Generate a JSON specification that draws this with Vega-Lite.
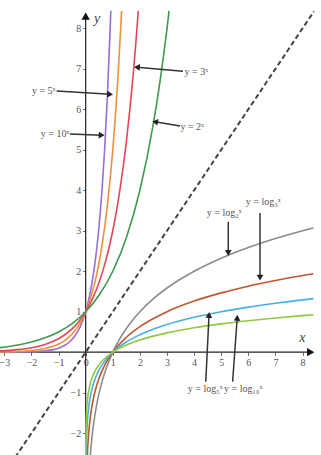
{
  "$schema": "https://vega.github.io/schema/vega-lite/v6.json",
  "width": 321,
  "height": 455,
  "autosize": {"type": "none"},
  "padding": 0,
  "background": "white",
  "config": {"view": {"stroke": null}},
  "datasets": {
    "curves": [
      {"f": "10^x", "x": -3.16, "y": 0.0007}, {"f": "10^x", "x": -2.5, "y": 0.0032}, {"f": "10^x", "x": -2, "y": 0.01},
      {"f": "10^x", "x": -1.5, "y": 0.0316}, {"f": "10^x", "x": -1.2, "y": 0.0631}, {"f": "10^x", "x": -1, "y": 0.1},
      {"f": "10^x", "x": -0.8, "y": 0.158}, {"f": "10^x", "x": -0.6, "y": 0.251}, {"f": "10^x", "x": -0.4, "y": 0.398},
      {"f": "10^x", "x": -0.2, "y": 0.631}, {"f": "10^x", "x": 0, "y": 1}, {"f": "10^x", "x": 0.1, "y": 1.259},
      {"f": "10^x", "x": 0.2, "y": 1.585}, {"f": "10^x", "x": 0.3, "y": 1.995}, {"f": "10^x", "x": 0.4, "y": 2.512},
      {"f": "10^x", "x": 0.5, "y": 3.162}, {"f": "10^x", "x": 0.6, "y": 3.981}, {"f": "10^x", "x": 0.7, "y": 5.012},
      {"f": "10^x", "x": 0.8, "y": 6.31}, {"f": "10^x", "x": 0.9, "y": 7.943}, {"f": "10^x", "x": 0.926, "y": 8.433},

      {"f": "5^x", "x": -3.16, "y": 0.0062}, {"f": "5^x", "x": -2.5, "y": 0.0179}, {"f": "5^x", "x": -2, "y": 0.04},
      {"f": "5^x", "x": -1.5, "y": 0.0894}, {"f": "5^x", "x": -1, "y": 0.2}, {"f": "5^x", "x": -0.75, "y": 0.299},
      {"f": "5^x", "x": -0.5, "y": 0.447}, {"f": "5^x", "x": -0.25, "y": 0.669}, {"f": "5^x", "x": 0, "y": 1},
      {"f": "5^x", "x": 0.2, "y": 1.38}, {"f": "5^x", "x": 0.4, "y": 1.904}, {"f": "5^x", "x": 0.6, "y": 2.627},
      {"f": "5^x", "x": 0.8, "y": 3.624}, {"f": "5^x", "x": 1, "y": 5}, {"f": "5^x", "x": 1.1, "y": 5.873},
      {"f": "5^x", "x": 1.2, "y": 6.899}, {"f": "5^x", "x": 1.3, "y": 8.103}, {"f": "5^x", "x": 1.325, "y": 8.43},

      {"f": "3^x", "x": -3.16, "y": 0.0311}, {"f": "3^x", "x": -2.5, "y": 0.0642}, {"f": "3^x", "x": -2, "y": 0.1111},
      {"f": "3^x", "x": -1.5, "y": 0.1925}, {"f": "3^x", "x": -1, "y": 0.3333}, {"f": "3^x", "x": -0.5, "y": 0.5774},
      {"f": "3^x", "x": -0.25, "y": 0.7598}, {"f": "3^x", "x": 0, "y": 1}, {"f": "3^x", "x": 0.25, "y": 1.316},
      {"f": "3^x", "x": 0.5, "y": 1.732}, {"f": "3^x", "x": 0.75, "y": 2.28}, {"f": "3^x", "x": 1, "y": 3},
      {"f": "3^x", "x": 1.25, "y": 3.948}, {"f": "3^x", "x": 1.5, "y": 5.196}, {"f": "3^x", "x": 1.75, "y": 6.839},
      {"f": "3^x", "x": 1.85, "y": 7.633}, {"f": "3^x", "x": 1.94, "y": 8.43},

      {"f": "2^x", "x": -3.16, "y": 0.1119}, {"f": "2^x", "x": -2.5, "y": 0.1768}, {"f": "2^x", "x": -2, "y": 0.25},
      {"f": "2^x", "x": -1.5, "y": 0.3536}, {"f": "2^x", "x": -1, "y": 0.5}, {"f": "2^x", "x": -0.5, "y": 0.7071},
      {"f": "2^x", "x": 0, "y": 1}, {"f": "2^x", "x": 0.5, "y": 1.414}, {"f": "2^x", "x": 1, "y": 2},
      {"f": "2^x", "x": 1.5, "y": 2.828}, {"f": "2^x", "x": 2, "y": 4}, {"f": "2^x", "x": 2.5, "y": 5.657},
      {"f": "2^x", "x": 2.75, "y": 6.727}, {"f": "2^x", "x": 3, "y": 8}, {"f": "2^x", "x": 3.075, "y": 8.43},

      {"f": "log2", "x": 0.172, "y": -2.54}, {"f": "log2", "x": 0.2, "y": -2.322}, {"f": "log2", "x": 0.25, "y": -2},
      {"f": "log2", "x": 0.3, "y": -1.737}, {"f": "log2", "x": 0.4, "y": -1.322}, {"f": "log2", "x": 0.5, "y": -1},
      {"f": "log2", "x": 0.6, "y": -0.737}, {"f": "log2", "x": 0.75, "y": -0.415}, {"f": "log2", "x": 1, "y": 0},
      {"f": "log2", "x": 1.25, "y": 0.322}, {"f": "log2", "x": 1.5, "y": 0.585}, {"f": "log2", "x": 2, "y": 1},
      {"f": "log2", "x": 2.5, "y": 1.322}, {"f": "log2", "x": 3, "y": 1.585}, {"f": "log2", "x": 4, "y": 2},
      {"f": "log2", "x": 5, "y": 2.322}, {"f": "log2", "x": 6, "y": 2.585}, {"f": "log2", "x": 7, "y": 2.807},
      {"f": "log2", "x": 8, "y": 3}, {"f": "log2", "x": 8.4, "y": 3.07},

      {"f": "log3", "x": 0.0614, "y": -2.54}, {"f": "log3", "x": 0.08, "y": -2.299}, {"f": "log3", "x": 0.1, "y": -2.096},
      {"f": "log3", "x": 0.15, "y": -1.727}, {"f": "log3", "x": 0.2, "y": -1.465}, {"f": "log3", "x": 0.3, "y": -1.096},
      {"f": "log3", "x": 0.4, "y": -0.834}, {"f": "log3", "x": 0.5, "y": -0.631}, {"f": "log3", "x": 0.7, "y": -0.325},
      {"f": "log3", "x": 1, "y": 0}, {"f": "log3", "x": 1.5, "y": 0.369}, {"f": "log3", "x": 2, "y": 0.631},
      {"f": "log3", "x": 3, "y": 1}, {"f": "log3", "x": 4, "y": 1.262}, {"f": "log3", "x": 5, "y": 1.465},
      {"f": "log3", "x": 6, "y": 1.631}, {"f": "log3", "x": 7, "y": 1.771}, {"f": "log3", "x": 8, "y": 1.893},
      {"f": "log3", "x": 8.4, "y": 1.937},

      {"f": "log5", "x": 0.0168, "y": -2.54}, {"f": "log5", "x": 0.025, "y": -2.292}, {"f": "log5", "x": 0.04, "y": -2},
      {"f": "log5", "x": 0.06, "y": -1.748}, {"f": "log5", "x": 0.1, "y": -1.431}, {"f": "log5", "x": 0.15, "y": -1.179},
      {"f": "log5", "x": 0.2, "y": -1}, {"f": "log5", "x": 0.3, "y": -0.748}, {"f": "log5", "x": 0.5, "y": -0.431},
      {"f": "log5", "x": 0.7, "y": -0.222}, {"f": "log5", "x": 1, "y": 0}, {"f": "log5", "x": 1.5, "y": 0.252},
      {"f": "log5", "x": 2, "y": 0.431}, {"f": "log5", "x": 3, "y": 0.683}, {"f": "log5", "x": 4, "y": 0.861},
      {"f": "log5", "x": 5, "y": 1}, {"f": "log5", "x": 6, "y": 1.113}, {"f": "log5", "x": 7, "y": 1.209},
      {"f": "log5", "x": 8, "y": 1.292}, {"f": "log5", "x": 8.4, "y": 1.322},

      {"f": "log10", "x": 0.00288, "y": -2.54}, {"f": "log10", "x": 0.005, "y": -2.301}, {"f": "log10", "x": 0.01, "y": -2},
      {"f": "log10", "x": 0.02, "y": -1.699}, {"f": "log10", "x": 0.04, "y": -1.398}, {"f": "log10", "x": 0.07, "y": -1.155},
      {"f": "log10", "x": 0.1, "y": -1}, {"f": "log10", "x": 0.2, "y": -0.699}, {"f": "log10", "x": 0.3, "y": -0.523},
      {"f": "log10", "x": 0.5, "y": -0.301}, {"f": "log10", "x": 0.7, "y": -0.155}, {"f": "log10", "x": 1, "y": 0},
      {"f": "log10", "x": 1.5, "y": 0.176}, {"f": "log10", "x": 2, "y": 0.301}, {"f": "log10", "x": 3, "y": 0.477},
      {"f": "log10", "x": 4, "y": 0.602}, {"f": "log10", "x": 5, "y": 0.699}, {"f": "log10", "x": 6, "y": 0.778},
      {"f": "log10", "x": 7, "y": 0.845}, {"f": "log10", "x": 8, "y": 0.903}, {"f": "log10", "x": 8.4, "y": 0.924}
    ],
    "diagonal": [{"x": -2.6, "y": -2.6}, {"x": 8.42, "y": 8.42}],
    "axisLines": [
      {"name": "x", "x": 8.3, "y": 0, "tx": -3.2, "ty": 0},
      {"name": "y", "x": 0, "y": 8.3, "tx": 0, "ty": -2.6}
    ],
    "pointers": [
      {"name": "5^x", "x": 0.9, "y": 6.37, "tx": -1.07, "ty": 6.45},
      {"name": "10^x", "x": 0.59, "y": 5.36, "tx": -0.58, "ty": 5.39},
      {"name": "3^x", "x": 1.89, "y": 7.04, "tx": 3.59, "ty": 6.94},
      {"name": "2^x", "x": 2.56, "y": 5.69, "tx": 3.48, "ty": 5.59},
      {"name": "log2", "x": 5.26, "y": 2.45, "tx": 5.26, "ty": 3.22},
      {"name": "log3", "x": 6.43, "y": 1.84, "tx": 6.43, "ty": 3.44},
      {"name": "log5", "x": 4.55, "y": 0.92, "tx": 4.43, "ty": -0.73},
      {"name": "log10", "x": 5.59, "y": 0.85, "tx": 5.42, "ty": -0.73}
    ],
    "labels": [
      {"x": -1.55, "y": 6.45, "text": "y = 5ˣ"},
      {"x": -1.13, "y": 5.39, "text": "y = 10ˣ"},
      {"x": 4.08, "y": 6.92, "text": "y = 3ˣ"},
      {"x": 3.93, "y": 5.56, "text": "y = 2ˣ"},
      {"x": 5.11, "y": 3.44, "text": "y = log₂ˣ"},
      {"x": 6.55, "y": 3.71, "text": "y = log₃ˣ"},
      {"x": 4.41, "y": -0.91, "text": "y = log₅ˣ"},
      {"x": 5.81, "y": -0.91, "text": "y = log₁₀ˣ"}
    ],
    "axisTitles": [
      {"x": 0.42, "y": 8.22, "text": "y"},
      {"x": 7.99, "y": 0.36, "text": "x"}
    ]
  },
  "encoding": {
    "x": {
      "field": "x",
      "type": "quantitative",
      "scale": {"domain": [-3.16, 8.68], "nice": false, "zero": false},
      "axis": {
        "title": null,
        "values": [-3, -2, -1, 0, 1, 2, 3, 4, 5, 6, 7, 8],
        "format": "d",
        "offset": -102.7,
        "domain": false,
        "grid": false,
        "tickSize": 3,
        "tickColor": "#666",
        "labelFont": "Liberation Serif",
        "labelFontSize": 10,
        "labelColor": "#555",
        "labelPadding": 2,
        "labelFlush": false,
        "labelOverlap": false
      }
    },
    "y": {
      "field": "y",
      "type": "quantitative",
      "scale": {"domain": [-2.54, 8.7], "nice": false, "zero": false},
      "axis": {
        "title": null,
        "values": [-2, -1, 1, 2, 3, 4, 5, 6, 7, 8],
        "format": "d",
        "offset": -85.7,
        "domain": false,
        "grid": false,
        "tickSize": 3,
        "tickColor": "#666",
        "labelFont": "Liberation Serif",
        "labelFontSize": 10,
        "labelColor": "#555",
        "labelPadding": 2,
        "labelFlush": false,
        "labelOverlap": false
      }
    }
  },
  "layer": [
    {
      "data": {"name": "axisLines"},
      "mark": {"type": "rule", "color": "#222", "strokeWidth": 1.2},
      "encoding": {"x2": {"field": "tx"}, "y2": {"field": "ty"}}
    },
    {
      "data": {"name": "axisLines"},
      "transform": [
        {"calculate": "atan2(-(datum.y - datum.ty) * 40.5, (datum.x - datum.tx) * 27.1) * 180 / PI", "as": "heading"}
      ],
      "mark": {"type": "point", "shape": "triangle-right", "filled": true, "color": "#111", "size": 70, "opacity": 1},
      "encoding": {"angle": {"field": "heading", "type": "quantitative", "scale": null}}
    },
    {
      "data": {"name": "diagonal"},
      "mark": {"type": "line", "color": "#444", "strokeWidth": 2, "strokeDash": [5, 3], "clip": true},
      "encoding": {}
    },
    {
      "data": {"name": "curves"},
      "mark": {"type": "line", "interpolate": "monotone", "strokeWidth": 1.6, "clip": true},
      "encoding": {
        "color": {
          "field": "f",
          "type": "nominal",
          "scale": {
            "domain": ["2^x", "3^x", "5^x", "10^x", "log2", "log3", "log5", "log10"],
            "range": ["#3e9a4c", "#e0485a", "#f0903a", "#9a6fd2", "#8c8c8c", "#c0552e", "#44b0e8", "#90c840"]
          },
          "legend": null
        }
      }
    },
    {
      "data": {"name": "pointers"},
      "mark": {"type": "rule", "color": "#333", "strokeWidth": 1.5},
      "encoding": {"x2": {"field": "tx"}, "y2": {"field": "ty"}}
    },
    {
      "data": {"name": "pointers"},
      "transform": [
        {"calculate": "atan2(-(datum.y - datum.ty) * 40.5, (datum.x - datum.tx) * 27.1) * 180 / PI", "as": "heading"}
      ],
      "mark": {"type": "point", "shape": "triangle-right", "filled": true, "color": "#222", "size": 45, "opacity": 1},
      "encoding": {"angle": {"field": "heading", "type": "quantitative", "scale": null}}
    },
    {
      "data": {"name": "labels"},
      "mark": {"type": "text", "font": "Liberation Serif", "fontSize": 10, "color": "#555", "align": "center", "baseline": "middle"},
      "encoding": {"text": {"field": "text"}}
    },
    {
      "data": {"name": "axisTitles"},
      "mark": {"type": "text", "font": "Liberation Serif", "fontSize": 14, "fontStyle": "italic", "color": "#444", "align": "center", "baseline": "middle"},
      "encoding": {"text": {"field": "text"}}
    }
  ]
}
